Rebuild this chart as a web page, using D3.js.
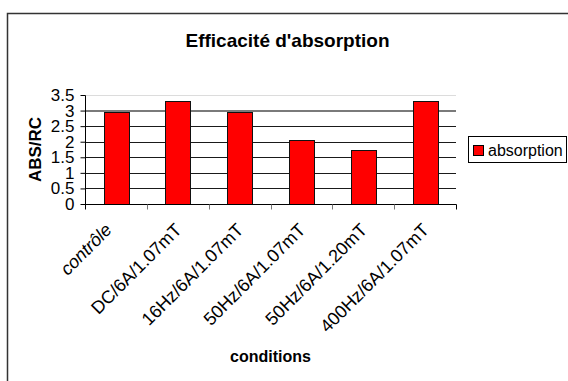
<!DOCTYPE html>
<html>
<head>
<meta charset="utf-8">
<script src="https://cdn.jsdelivr.net/npm/d3@7"></script>
<style>
  html, body { margin: 0; padding: 0; background: #fff; }
  svg { display: block; font-family: Arial, "Liberation Sans", sans-serif; }
</style>
</head>
<body>
<svg id="chart" width="568" height="381"></svg>
<script>
// Absorption efficiency (ABS/RC) per exposure condition
const categories = ["contrôle", "DC/6A/1.07mT", "16Hz/6A/1.07mT", "50Hz/6A/1.07mT", "50Hz/6A/1.20mT", "400Hz/6A/1.07mT"];
const absorption = [2.94, 3.30, 2.94, 2.04, 1.73, 3.30];
const yTicks = [0, 0.5, 1, 1.5, 2, 2.5, 3, 3.5];
const seriesName = "absorption";
const chartTitle = "Efficacité d'absorption";
const xTitle = "conditions";
const yTitle = "ABS/RC";

const svg = d3.select("#chart");

// outer chart frame (runs past the right and bottom edges)
svg.append("rect")
  .attr("x", 7.5).attr("y", 13.5)
  .attr("width", 620).attr("height", 420)
  .attr("fill", "#fff")
  .attr("stroke", "#333").attr("stroke-width", 1.5);

const plot = { left: 85, right: 456, top: 95, bottom: 204 };

const x = d3.scaleBand()
  .domain(categories)
  .range([plot.left, plot.right])
  .paddingInner(0.6).paddingOuter(0.3);

const xCat = d3.scaleBand().domain(categories).range([plot.left, plot.right]);

const y = d3.scaleLinear().domain([0, 3.5]).range([plot.bottom, plot.top]);
const crisp = v => Math.round(v) + 0.5;

// gridlines
svg.append("g").selectAll("line")
  .data(yTicks.filter(t => t > 0))
  .join("line")
  .attr("x1", plot.left).attr("x2", plot.right)
  .attr("y1", d => d === 3 ? Math.round(y(d)) : crisp(y(d)))
  .attr("y2", d => d === 3 ? Math.round(y(d)) : crisp(y(d)))
  .attr("stroke", d => d === 3.5 ? "#dcdcdc" : (d === 3 ? "#7a7a7a" : "#1a1a1a"))
  .attr("stroke-width", d => d === 3 ? 2 : 1);

// bars
svg.append("g").selectAll("rect")
  .data(categories.map((c, i) => ({ c, v: absorption[i] })))
  .join("rect")
  .attr("x", d => Math.round(x(d.c)) + 0.5)
  .attr("y", d => Math.round(y(d.v)) + 0.5)
  .attr("width", Math.round(x.bandwidth()))
  .attr("height", d => Math.round(y(0)) - Math.round(y(d.v)))
  .attr("fill", "#ff0000")
  .attr("stroke", "#111").attr("stroke-width", 1);

// y axis
const yAxis = d3.axisLeft(y).tickValues(yTicks).tickSize(5).tickPadding(6)
  .tickFormat(d3.format("~g"));
const gy = svg.append("g").attr("transform", `translate(${crisp(plot.left)},0)`).call(yAxis);
gy.select(".domain").attr("d", `M0,${crisp(plot.top)}V${crisp(plot.bottom)}`).attr("stroke", "#000");
gy.selectAll(".tick line").attr("stroke", "#000");
gy.selectAll(".tick text").attr("font-size", 17).attr("fill", "#000")
  .attr("font-family", "Arial, 'Liberation Sans', sans-serif");

// x axis: ticks between categories, rotated labels
const boundaries = categories.map(c => xCat(c)).concat([plot.right]);
svg.append("line")
  .attr("x1", plot.left).attr("x2", plot.right + 0.5)
  .attr("y1", crisp(plot.bottom)).attr("y2", crisp(plot.bottom))
  .attr("stroke", "#000");
svg.append("g").selectAll("line")
  .data(boundaries)
  .join("line")
  .attr("x1", d => crisp(d)).attr("x2", d => crisp(d))
  .attr("y1", crisp(plot.bottom)).attr("y2", crisp(plot.bottom) + 5)
  .attr("stroke", (d, i) => i === boundaries.length - 1 || i === 0 ? "#000" : "#777");

svg.append("g").selectAll("text")
  .data(categories)
  .join("text")
  .attr("transform", d => `translate(${xCat(d) + xCat.bandwidth() / 2 + (d === "contrôle" ? -3 : 5)},${plot.bottom + 27}) rotate(-45)`)
  .attr("text-anchor", "end")
  .attr("font-size", 18)
  .attr("font-style", d => d === "contrôle" ? "italic" : "normal")
  .attr("fill", "#000")
  .text(d => d);

// titles
svg.append("text")
  .attr("x", 287.5).attr("y", 47)
  .attr("text-anchor", "middle")
  .attr("font-size", 19).attr("font-weight", "bold")
  .text(chartTitle);

svg.append("text")
  .attr("x", (plot.left + plot.right) / 2).attr("y", 362)
  .attr("text-anchor", "middle")
  .attr("font-size", 16).attr("font-weight", "bold")
  .text(xTitle);

svg.append("text")
  .attr("transform", `translate(41,${(plot.top + plot.bottom) / 2}) rotate(-90)`)
  .attr("text-anchor", "middle")
  .attr("font-size", 17).attr("font-weight", "bold")
  .text(yTitle);

// legend
const lg = svg.append("g");
lg.append("rect")
  .attr("x", 468.5).attr("y", 136.5).attr("width", 98).attr("height", 26)
  .attr("fill", "#fff").attr("stroke", "#000");
lg.append("rect")
  .attr("x", 473.5).attr("y", 145.5).attr("width", 10).attr("height", 10)
  .attr("fill", "#ff0000").attr("stroke", "#000");
lg.append("text")
  .attr("x", 488).attr("y", 155.5)
  .attr("font-size", 16).attr("fill", "#000")
  .text(seriesName);
</script>
</body>
</html>
